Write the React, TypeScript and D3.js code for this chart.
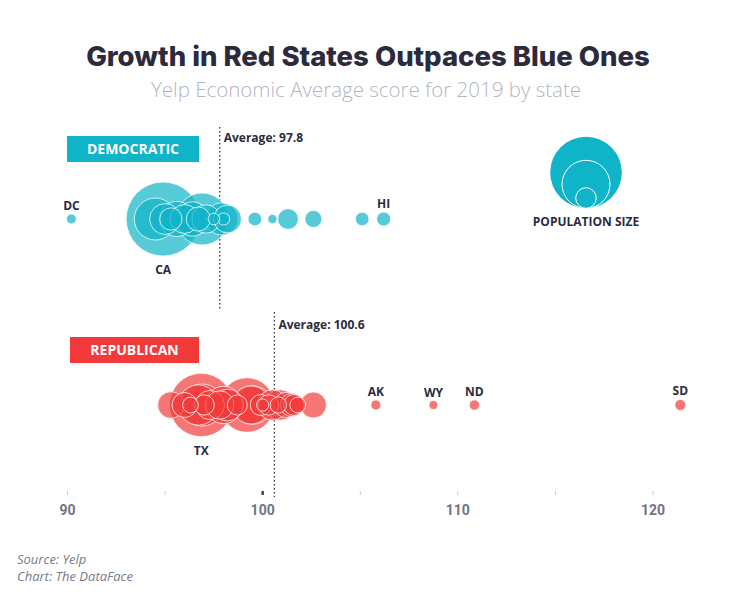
import React from "react";
import * as d3 from "d3";

const W = 736;
const H = 601;

const demStates = ["DC","CA","IL","MA","NJ","MD","CT","VA","NY","OR","CO","DE","WA","RI","MN","NH","VT","NV","NM","ME","HI"];
const demScores = [90.2,94.9,94.5,95.0,95.6,96.0,95.3,96.4,96.9,96.7,97.1,97.5,97.9,98.0,98.2,99.6,100.5,101.3,102.6,105.1,106.2];
const demPop = [0.71,39.5,12.7,6.9,8.9,6.0,3.6,8.5,19.5,4.2,5.8,0.97,7.6,1.06,5.6,1.36,0.62,3.1,2.1,1.34,1.42];

const repStates = ["TX","FL","PA","OH","GA","NC","MI","IN","TN","MO","WI","AZ","SC","AL","LA","KY","OK","IA","UT","AR","MS","KS","NE","ID","WV","MT","SD","ND","AK","WY"];
const repScores = [96.85,99.2,96.9,96.7,99.5,99.4,98.0,100.5,100.9,97.3,97.8,98.2,95.3,102.6,101.2,96.0,101.5,101.6,99.9,100.3,97.0,98.7,100.8,101.8,96.3,100.0,121.4,110.85,105.8,108.75];
const repPop = [29.0,21.5,12.8,11.7,10.6,10.5,10.0,6.7,6.8,6.1,5.8,7.3,5.1,4.9,4.6,4.5,3.96,3.16,3.2,3.0,2.98,2.9,1.93,1.79,1.79,1.07,0.88,0.76,0.73,0.58];

const demAverage = 97.8;
const repAverage = 100.6;

const demLabelsAbove = ["DC","HI"];
const demLabelsBelow = ["CA"];
const repLabelsAbove = ["AK","WY","ND","SD"];
const repLabelsBelow = ["TX"];

const legendPops = [37, 16.6, 3.05];
const xTicks = [90, 95, 100, 105, 110, 115, 120];
const xTickLabels = [90, 100, 110, 120];

const DEM = "#10b4c8";
const REP = "#f23a3a";
const DARK = "#2b2b3d";

export default function App() {
  const x = d3.scaleLinear().domain([90, 120]).range([67.5, 653]);
  const r = d3.scaleSqrt().domain([0, 39.5]).range([0, 37]);

  const demCY = 219;
  const repCY = 405;

  const mk = (states: string[], scores: number[], pops: number[]) =>
    states.map((s, i) => ({ s, v: scores[i], p: pops[i] })).sort((a, b) => b.p - a.p);

  const dem = mk(demStates, demScores, demPop);
  const rep = mk(repStates, repScores, repPop);

  const renderGroup = (data: { s: string; v: number; p: number }[], cy: number, color: string, above: string[], below: string[]) => (
    <g>
      {data.map((d) => (
        <circle key={d.s} cx={x(d.v)} cy={cy} r={r(d.p)} fill={color} fillOpacity={0.7} stroke="#fff" strokeOpacity={0.75} strokeWidth={1} />
      ))}
      {data.filter((d) => above.includes(d.s)).map((d) => (
        <text key={"a" + d.s} x={x(d.v)} y={cy - r(d.p) - 4} textAnchor="middle" fontFamily="Open Sans" fontWeight={700} fontSize={12} fill={DARK}>{d.s}</text>
      ))}
      {data.filter((d) => below.includes(d.s)).map((d) => (
        <text key={"b" + d.s} x={x(d.v)} y={cy + r(d.p) + 18} textAnchor="middle" fontFamily="Open Sans" fontWeight={700} fontSize={12} fill={DARK}>{d.s}</text>
      ))}
    </g>
  );

  const legendBottom = 208.3;
  const legendX = 586;

  return (
    <svg width={W} height={H} style={{ position: "absolute", left: 0, top: 0, background: "#fff" }}>
      <text x={368} y={66} textAnchor="middle" fontFamily="Inter" fontWeight={800} fontSize={27.5} fill={DARK}>Growth in Red States Outpaces Blue Ones</text>
      <text x={366} y={97} textAnchor="middle" fontFamily="Open Sans" fontWeight={300} fontSize={20.5} fill="#b5b5bf">Yelp Economic Average score for 2019 by state</text>

      {/* Democratic */}
      <rect x={67} y={136} width={132} height={26} fill={DEM} />
      <text x={133} y={154} textAnchor="middle" fontFamily="Open Sans" fontWeight={700} fontSize={14} fill="#fff">DEMOCRATIC</text>
      <line x1={x(demAverage)} x2={x(demAverage)} y1={127} y2={310} stroke="#333" strokeWidth={1.3} strokeDasharray="1.5,2.5" />
      <text x={x(demAverage) + 4} y={142} fontFamily="Open Sans" fontWeight={700} fontSize={12} fill={DARK}>Average: 97.8</text>
      {renderGroup(dem, demCY, DEM, demLabelsAbove, demLabelsBelow)}

      {/* Republican */}
      <rect x={70} y={337} width={129} height={26} fill={REP} />
      <text x={134.5} y={355} textAnchor="middle" fontFamily="Open Sans" fontWeight={700} fontSize={14} fill="#fff">REPUBLICAN</text>
      <line x1={x(repAverage)} x2={x(repAverage)} y1={312} y2={497} stroke="#333" strokeWidth={1.3} strokeDasharray="1.5,2.5" />
      <text x={x(repAverage) + 4} y={329} fontFamily="Open Sans" fontWeight={700} fontSize={12} fill={DARK}>Average: 100.6</text>
      {renderGroup(rep, repCY, REP, repLabelsAbove, repLabelsBelow)}

      {/* Legend */}
      {legendPops.map((p, i) => (
        <circle key={i} cx={legendX} cy={legendBottom - r(p)} r={r(p)} fill={DEM} stroke={i === 0 ? "none" : "#fff"} strokeWidth={1} />
      ))}
      <text x={legendX} y={226} textAnchor="middle" fontFamily="Open Sans" fontWeight={700} fontSize={12} fill={DARK}>POPULATION SIZE</text>

      {/* Axis */}
      {xTicks.map((t) => (
        <line key={t} x1={x(t)} x2={x(t)} y1={491} y2={495} stroke={t === 100 ? "#444" : "#ccc"} strokeWidth={t === 100 ? 2.5 : 1} />
      ))}
      {xTickLabels.map((t) => (
        <text key={t} x={x(t)} y={515} textAnchor="middle" fontFamily="Roboto" fontWeight={700} fontSize={14} fill="#737383">{t}</text>
      ))}

      <text x={17} y={564} fontFamily="Open Sans" fontStyle="italic" fontSize={13} fill="#7a7a8a">Source: Yelp</text>
      <text x={17} y={581} fontFamily="Open Sans" fontStyle="italic" fontSize={13} fill="#7a7a8a">Chart: The DataFace</text>
    </svg>
  );
}
